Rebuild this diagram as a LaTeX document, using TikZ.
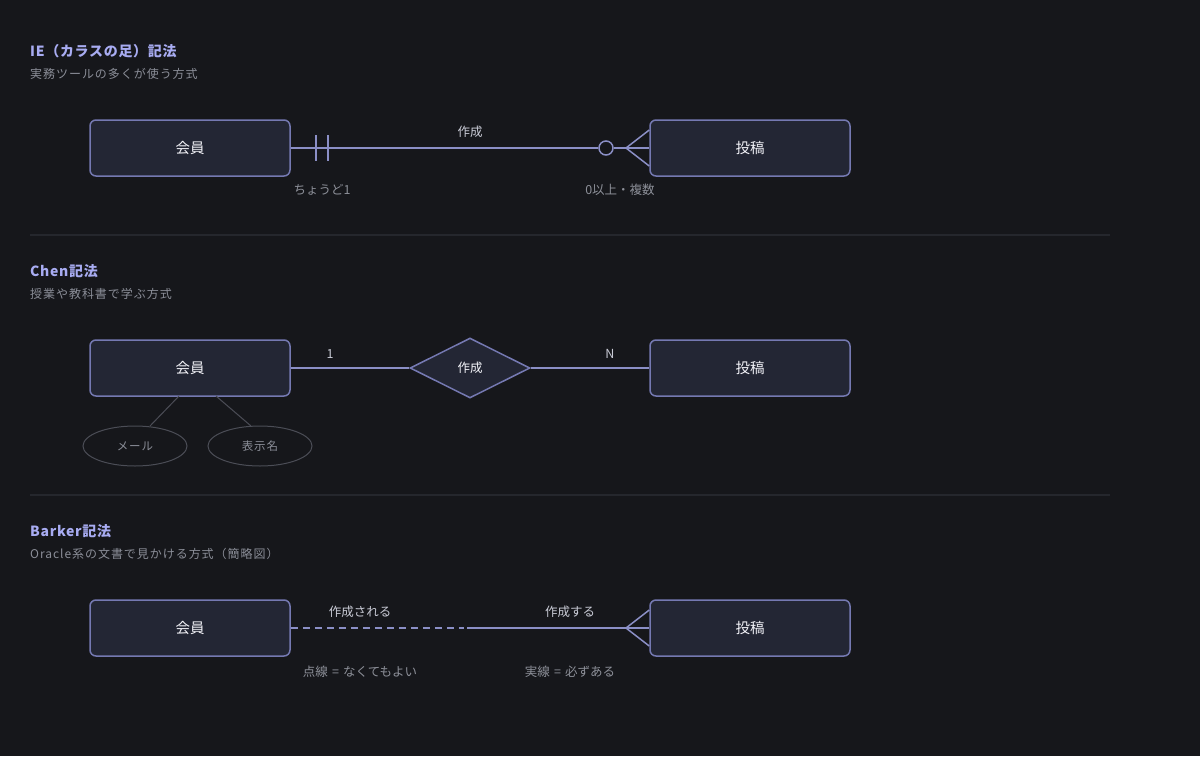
\documentclass[tikz,border=0pt]{standalone}
\usepackage{fontspec}
\setmainfont{Noto Sans CJK JP}
\newfontfamily\subfont{Noto Sans CJK JP}[LetterSpace=8]
\newfontfamily\titlefont{Noto Sans CJK JP}[LetterSpace=5]
\usetikzlibrary{shapes.geometric,calc}
\definecolor{bgc}{HTML}{16171B}
\definecolor{boxfill}{HTML}{232634}
\definecolor{boxline}{HTML}{7579B2}
\definecolor{conn}{HTML}{8B8FC6}
\definecolor{titlec}{HTML}{A8ACF2}
\definecolor{subc}{HTML}{8B8E98}
\definecolor{labc}{HTML}{C9CBD6}
\definecolor{grayc}{HTML}{8D9099}
\definecolor{ellc}{HTML}{4B4D56}
\definecolor{sepc}{HTML}{25272D}
\tikzset{
  entity/.style={draw=boxline, fill=boxfill, line width=1.5pt, rounded corners=6pt,
    minimum width=200pt, minimum height=56pt, inner sep=0pt, text=white!92!boxline,
    font=\fontsize{14.5}{16}\selectfont},
  reln/.style={diamond, draw=boxline, fill=boxfill, line width=1.5pt, aspect=2,
    minimum width=120pt, minimum height=60pt, inner sep=0pt, text=white!92!boxline,
    font=\fontsize{12.5}{14}\selectfont},
  attr/.style={ellipse, draw=ellc, line width=1pt, minimum width=104pt, minimum height=40pt,
    inner sep=0pt, text=subc, font=\subfont\fontsize{11.5}{13}\selectfont},
  sectitle/.style={anchor=west, inner sep=0pt, text=titlec, font=\titlefont\bfseries\fontsize{14}{16}\selectfont},
  subtitle/.style={anchor=west, inner sep=0pt, text=subc, font=\subfont\fontsize{12}{14}\selectfont},
  rlabel/.style={inner sep=0pt, text=labc, font=\fontsize{12.5}{14}\selectfont},
  glabel/.style={inner sep=0pt, text=grayc, font=\fontsize{12.5}{14}\selectfont},
  connector/.style={draw=conn, line width=1.5pt},
  attrline/.style={draw=ellc, line width=1pt},
  sepline/.style={draw=sepc, line width=1.5pt}
}
\begin{document}
\begin{tikzpicture}[x=1pt,y=-1pt]
\fill[bgc] (0,0) rectangle (1200,756);
\useasboundingbox (0,0) rectangle (1200,756);

% ---------- IE ----------
\node[sectitle] (t1) at (30,51) {IE（カラスの足）記法};
\node[subtitle] (s1) at (30,74) {実務ツールの多くが使う方式};
\node[entity] (m1) at (190,148) {会員};
\node[entity] (p1) at (750,148) {投稿};
\node[circle, draw=conn, line width=1.5pt, fill=bgc, minimum size=14pt, inner sep=0pt] (c1) at (606,148) {};
\coordinate (ap1) at (626,148);
\draw[connector] (m1.east) -- (c1.west);
\draw[connector] (c1.east) -- (p1.west);
\draw[connector] ($(p1.west)+(0,-18)$) -- (ap1) -- ($(p1.west)+(0,18)$);
\draw[connector] (316,135) -- (316,161);
\draw[connector] (328,135) -- (328,161);
\node[rlabel] (l1) at (470,132) {作成};
\node[glabel] (g1) at (322,190) {ちょうど1};
\node[glabel] (g2) at (620,190) {0以上・複数};

\draw[sepline] (30,235) -- (1110,235);

% ---------- Chen ----------
\node[sectitle] (t2) at (30,271) {Chen記法};
\node[subtitle] (s2) at (30,294) {授業や教科書で学ぶ方式};
\node[entity] (m2) at (190,368) {会員};
\node[entity] (p2) at (750,368) {投稿};
\node[reln] (r2) at (470,368) {作成};
\draw[connector] (m2.east) -- (r2.west);
\draw[connector] (r2.east) -- (p2.west);
\node[rlabel] (n1) at (330,354) {1};
\node[rlabel] (n2) at (610,354) {N};
\node[attr] (a1) at (135,446) {メール};
\node[attr] (a2) at (260,446) {表示名};
\coordinate (a1top) at (150,426);
\coordinate (a2top) at (251,426);
\draw[attrline] (179,396) -- (a1top);
\draw[attrline] (216,396) -- (a2top);

\draw[sepline] (30,495) -- (1110,495);

% ---------- Barker ----------
\node[sectitle] (t3) at (30,531) {Barker記法};
\node[subtitle] (s3) at (30,554) {Oracle系の文書で見かける方式（簡略図）};
\node[entity] (m3) at (190,628) {会員};
\node[entity] (p3) at (750,628) {投稿};
\coordinate (mid3a) at (464,628);
\coordinate (mid3b) at (467,628);
\coordinate (ap3) at (626,628);
\draw[connector, dash pattern=on 7pt off 5pt] (m3.east) -- (mid3a);
\draw[connector] (mid3b) -- (p3.west);
\draw[connector] ($(p3.west)+(0,-18)$) -- (ap3) -- ($(p3.west)+(0,18)$);
\node[rlabel] (l3) at (360,612) {作成される};
\node[rlabel] (l4) at (570,612) {作成する};
\node[glabel] (g3) at (360,672) {点線\,\,=\,\,なくてもよい};
\node[glabel] (g4) at (570,672) {実線\,\,=\,\,必ずある};
\end{tikzpicture}
\end{document}
